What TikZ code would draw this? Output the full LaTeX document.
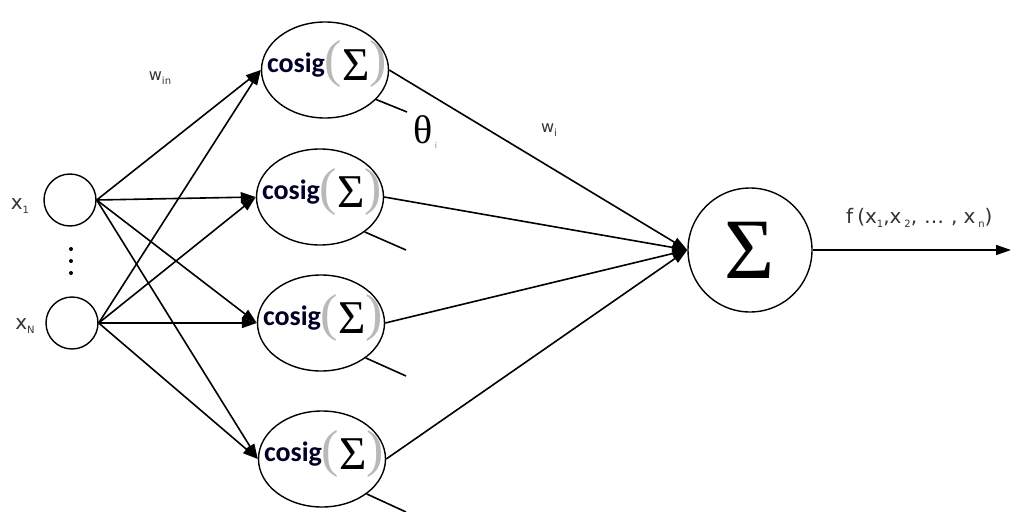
\documentclass[tikz,border=0pt]{standalone}
\usepackage{fontspec}
\usetikzlibrary{shapes.geometric,arrows.meta}
\setmainfont{Liberation Serif}
\newfontfamily\labfont{DejaVu Sans}
\newfontfamily\calfont{Carlito}
\newcommand{\cosigtext}{{\calfont\bfseries\fontsize{28}{28}\selectfont\color{black!85!blue}cosig}{\color{gray!55}\fontsize{52}{52}\selectfont\raisebox{-5pt}{(}}{\fontsize{47}{47}\selectfont\raisebox{-8pt}{Σ}}{\color{gray!55}\fontsize{52}{52}\selectfont\raisebox{-5pt}{)}}}
\newcommand{\lsub}[1]{\raisebox{-4pt}{\fontsize{10}{10}\selectfont #1}}
\tikzset{
  inp/.style={circle,draw,line width=1.4pt,minimum size=52pt,inner sep=0pt},
  hid/.style={ellipse,draw,line width=1.4pt,minimum width=127pt,minimum height=96pt,inner sep=0pt},
  outn/.style={circle,draw,line width=1.4pt,minimum size=124pt,inner sep=0pt},
  conn/.style={line width=1.6pt,-{Triangle[length=15pt,width=10pt]}},
  plain/.style={line width=1.6pt},
  lab/.style={font=\labfont\fontsize{16}{16}\selectfont,text=black!80,inner sep=0pt},
  xlab/.style={font=\labfont\fontsize{20}{20}\selectfont,text=black!80,inner sep=0pt},
  htext/.style={inner sep=0pt,anchor=base}
}
\begin{document}
\begin{tikzpicture}[x=1pt,y=-1pt]
\useasboundingbox (0,0) rectangle (1011,511);
% input nodes
\node[inp] (x1) at (70,200) {};
\node[inp] (xn) at (72,323) {};
\fill (71,249) circle (2pt) (71,261) circle (2pt) (71,273) circle (2pt);
\node[xlab] (lx1) at (20,206) {x\lsub{1}};
\node[xlab] (lxn) at (25,326) {x\lsub{N}};
% hidden nodes
\node[hid] (h1) at (325,70) {};
\node[hid] (h2) at (320,197) {};
\node[hid] (h3) at (321,323) {};
\node[hid] (h4) at (322,459) {};
\node[htext] (t1) at (327,72) {\cosigtext};
\node[htext] (t2) at (322,199) {\cosigtext};
\node[htext] (t3) at (323,325) {\cosigtext};
\node[htext] (t4) at (324,461) {\cosigtext};
% output node
\node[outn] (s) at (750,250) {\fontsize{86}{86}\selectfont Σ};
\coordinate (o) at (1011,250);
% connections input -> hidden
\foreach \i in {x1,xn}{
  \foreach \h in {h1,h2,h3,h4}{
    \draw[conn] (\i.east) -- (\h.west);
  }
}
% hidden -> output
\foreach \h in {h1,h2,h3,h4}{
  \draw[conn] (\h.east) -- (s.west);
}
\draw[conn] (s.east) -- (o);
% bias lines
\coordinate (b1) at (407,112);
\coordinate (b2) at (406,250);
\coordinate (b3) at (406,376);
\coordinate (b4) at (406,512);
\draw[plain] (h1.-30) -- (b1);
\draw[plain] (h2.-38) -- (b2);
\draw[plain] (h3.-38) -- (b3);
\draw[plain] (h4.-38) -- (b4);
% labels
\node[font=\fontsize{40}{40}\selectfont,inner sep=0pt] (th) at (423,130) {θ};
\node[lab,font=\labfont\fontsize{8}{8}\selectfont,text=gray] (thi) at (436,145) {i};
\node[lab] (win) at (160,78) {w\lsub{in}};
\node[lab] (wi) at (549,130) {w\lsub{i}};
\node[lab,anchor=west,font=\labfont\fontsize{20}{20}\selectfont] (f) at (846,218) {f\hspace{4pt}(x\lsub{1},x\hspace{3pt}\lsub{2},\hspace{7pt}…\hspace{7pt},\hspace{6pt}x\hspace{3pt}\lsub{n})};
\end{tikzpicture}
\end{document}
